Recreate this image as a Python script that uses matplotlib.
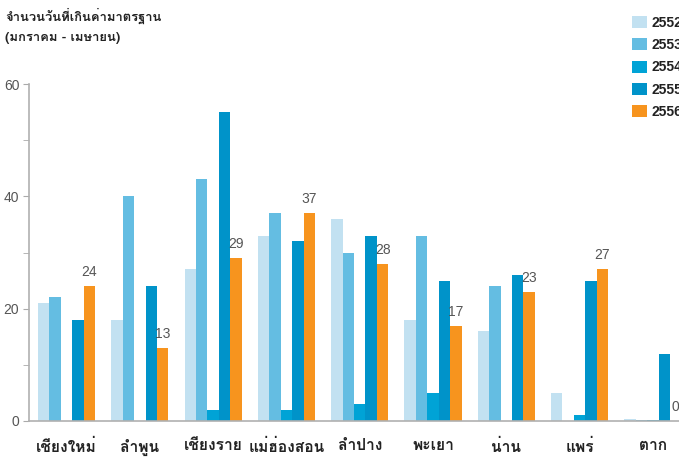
import matplotlib
matplotlib.use("Agg")
import matplotlib.pyplot as plt
import numpy as np
from matplotlib import font_manager as fm
from matplotlib.ft2font import FT2Font
from matplotlib.patches import Patch
import matplotlib.patheffects as pe

# ---------------- data ----------------
categories = ["เชียงใหม่", "ลำพูน", "เชียงราย", "แม่ฮ่องสอน", "ลำปาง",
              "พะเยา", "น่าน", "แพร่", "ตาก"]
years = ["2552", "2553", "2554", "2555", "2556"]
v2552 = [21, 18, 27, 33, 36, 18, 16, 5, 0.3]
v2553 = [22, 40, 43, 37, 30, 33, 24, 0, 0.1]
v2554 = [0, 0, 2, 2, 3, 5, 0, 1, 0.1]
v2555 = [18, 24, 55, 32, 33, 25, 26, 25, 12]
v2556 = [24, 13, 29, 37, 28, 17, 23, 27, 0]
series = [v2552, v2553, v2554, v2555, v2556]
labels_2556 = ["24", "13", "29", "37", "28", "17", "23", "27", "0"]
yticks = [0, 20, 40, 60]
title_lines = ["จำนวนวันที่เกินค่ามาตรฐาน", "(มกราคม - เมษายน)"]

colors = ["#c2e1f1", "#64bde2", "#00a3d6", "#0093c9", "#f7941e"]

# --------------- fonts ----------------
def _w(f):
    w = f.weight
    if isinstance(w, str):
        w = fm.weight_dict.get(w, 400)
    return w

thai = []
for f in fm.fontManager.ttflist:
    try:
        cm = FT2Font(f.fname).get_charmap()
    except Exception:
        continue
    if 0x0E01 in cm and 0x0E33 in cm:
        thai.append(f)
fams = {}
for f in thai:
    fams.setdefault(f.name, []).append(_w(f))
pref = ["Noto Sans Thai", "Noto Sans Thai UI", "Loma", "Garuda", "Sarabun",
        "Tlwg Typo", "Umpush", "Waree", "Kinnari", "Norasi"]
with_bold = [n for n in fams if max(fams[n]) >= 600]
ordered = [p for p in pref if p in with_bold] + sorted(with_bold) + \
          [p for p in pref if p in fams] + sorted(fams)
thai_family = ordered[0] if ordered else "DejaVu Sans"
has_bold = thai_family in with_bold
fake_bold = [] if has_bold else [pe.withStroke(linewidth=0.7, foreground="#222222")]
num_family = "Liberation Sans"

# --------------- figure ---------------
fig = plt.figure(figsize=(6.79, 4.62), dpi=100)
ax = fig.add_axes([29 / 679, 1 - 421 / 462, 1 - 29 / 679, (421 - 84) / 462])

n = len(categories)
x = np.arange(n)
bw = 0.156
for i, (vals, c) in enumerate(zip(series, colors)):
    ax.bar(x + (i - 2) * bw, vals, width=bw, color=c, linewidth=0, zorder=2)

for xi, v, lab in zip(x, v2556, labels_2556):
    ax.annotate(lab, (xi + 2 * bw, v), xytext=(0, 5), textcoords="offset points",
                ha="center", va="bottom", fontsize=10, color="#555555",
                family=num_family)

ax.set_ylim(0, 60)
ax.set_xlim(-0.512, -0.512 + (679 - 29) / 73.3)
ax.set_yticks(yticks)
ax.set_yticks([10, 30, 50], minor=True)
ax.set_yticklabels([str(t) for t in yticks], fontsize=10, color="#555555",
                   family=num_family)
ax.tick_params(axis="y", which="both", length=4, color="#aaaaaa", pad=3)
ax.set_xticks(x)
ax.set_xticklabels(categories, family=[thai_family, "DejaVu Sans"],
                   fontsize=11.2, fontweight="bold", color="#222222")
for t in ax.get_xticklabels():
    t.set_path_effects(fake_bold)
ax.tick_params(axis="x", length=0, pad=13)
for s in ["top", "right"]:
    ax.spines[s].set_visible(False)
for s in ["left", "bottom"]:
    ax.spines[s].set_color("#b0b0b0")
    ax.spines[s].set_linewidth(1.2)

for yy, line in zip([16, 38], title_lines):
    t = fig.text(5 / 679, 1 - yy / 462, line, family=[thai_family, "DejaVu Sans"],
                 fontsize=9.4, fontweight="bold", color="#222222",
                 va="center", ha="left")
    t.set_path_effects(fake_bold)

handles = [Patch(facecolor=c, edgecolor="none") for c in colors]
leg = fig.legend(handles, years, loc="upper left",
                 bbox_to_anchor=(629 / 679, 1 - 13 / 462),
                 frameon=False, prop={"family": num_family, "weight": "bold", "size": 10},
                 handlelength=1.1, handleheight=0.95, handletextpad=0.33,
                 labelspacing=0.6, borderaxespad=0, borderpad=0.2)
for t in leg.get_texts():
    t.set_color("#222222")

fig.savefig("out.png", dpi=100)
